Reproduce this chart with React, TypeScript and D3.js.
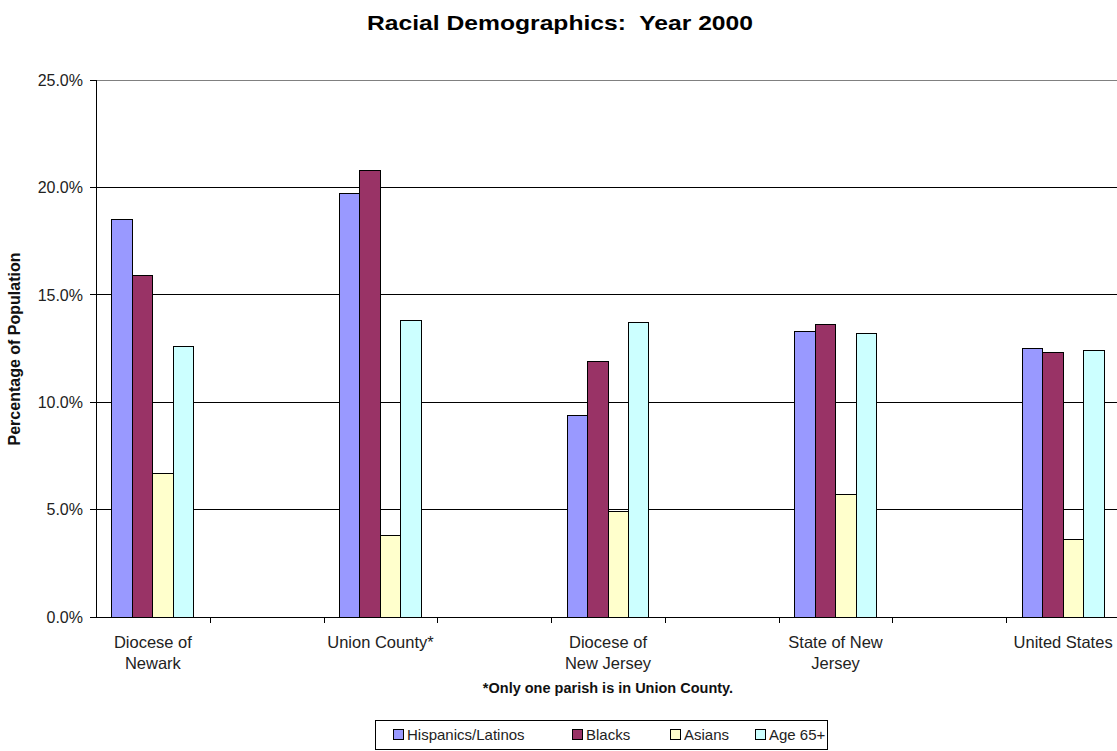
import * as d3 from "d3";

const CATEGORIES = [
  ["Diocese of", "Newark"],
  [""],
  ["Union County*"],
  [""],
  ["Diocese of", "New Jersey"],
  [""],
  ["State of New", "Jersey"],
  [""],
  ["United States"],
];
const SERIES = ["Hispanics/Latinos", "Blacks", "Asians", "Age 65+"];
const COLORS = ["#9999ff", "#993366", "#ffffcc", "#ccffff"];
// one row per category, blank spacer categories are null
const VALUES: (number[] | null)[] = [
  [18.5, 15.9, 6.7, 12.6],
  null,
  [19.7, 20.8, 3.8, 13.8],
  null,
  [9.4, 11.9, 4.9, 13.7],
  null,
  [13.3, 13.6, 5.7, 13.2],
  null,
  [12.5, 12.3, 3.6, 12.4],
];
const Y_TICKS = [0, 5, 10, 15, 20, 25];

const W = 1117;
const H = 751;
const L = 96;
const R = 1120;
const T = 80;
const B = 617;
const FONT = "Arial, 'Liberation Sans', sans-serif";

export default function App() {
  const x = d3.scaleBand<number>().domain(d3.range(CATEGORIES.length)).range([L, R]);
  const xs = d3.scaleBand<number>().domain(d3.range(SERIES.length)).range([0, x.bandwidth()]).paddingOuter(0.78);
  const y = d3.scaleLinear().domain([0, 25]).range([B, T]);

  // legend swatch positions, as laid out in the original
  const legendX = [393, 572, 670, 755];

  return (
    <svg width={W} height={H} style={{ position: "absolute", left: 0, top: 0, background: "#fff" }} fontFamily={FONT}>
      <rect width={W} height={H} fill="#fff" />
      <text x={560} y={30} textAnchor="middle" fontSize={21} fontWeight="bold" textLength={386} lengthAdjust="spacingAndGlyphs" style={{ whiteSpace: "pre" }}>
        {"Racial Demographics:  Year 2000"}
      </text>

      {/* gridlines */}
      {Y_TICKS.filter((t) => t > 0).map((t) => (
        <line key={t} x1={L} x2={R} y1={y(t)} y2={y(t)} stroke={t === 25 ? "#808080" : "#000"} shapeRendering="crispEdges" />
      ))}

      {/* bars */}
      {VALUES.map((row, i) =>
        row
          ? row.map((v, j) => (
              <rect
                key={`${i}-${j}`}
                x={(x(i) as number) + (xs(j) as number)}
                y={y(v)}
                width={xs.bandwidth()}
                height={B - y(v)}
                fill={COLORS[j]}
                stroke="#000"
                strokeWidth={1}
                shapeRendering="crispEdges"
              />
            ))
          : null
      )}

      {/* axes */}
      <line x1={L} x2={L} y1={T} y2={B} stroke="#000" shapeRendering="crispEdges" />
      <line x1={L} x2={R} y1={B} y2={B} stroke="#000" shapeRendering="crispEdges" />
      {Y_TICKS.map((t) => (
        <g key={t}>
          <line x1={L - 6} x2={L} y1={y(t)} y2={y(t)} stroke="#000" shapeRendering="crispEdges" />
          <text x={L - 13} y={y(t)} dy="0.36em" textAnchor="end" fontSize={16} fill="#222">
            {t.toFixed(1)}%
          </text>
        </g>
      ))}
      {d3.range(1, CATEGORIES.length + 1).map((i) => {
        const xx = Math.round((x(i - 1) as number) + x.bandwidth());
        return <line key={i} x1={xx} x2={xx} y1={B} y2={B + 6} stroke="#000" shapeRendering="crispEdges" />;
      })}
      {CATEGORIES.map((lines, i) => (
        <text key={i} x={(x(i) as number) + x.bandwidth() / 2} y={648} textAnchor="middle" fontSize={16.5} fill="#222">
          {lines.map((s, k) => (
            <tspan key={k} x={(x(i) as number) + x.bandwidth() / 2} dy={k === 0 ? 0 : 21}>
              {s}
            </tspan>
          ))}
        </text>
      ))}

      <text transform={`translate(20,349) rotate(-90)`} textAnchor="middle" fontSize={16} fontWeight="bold" fill="#111">
        Percentage of Population
      </text>

      <text x={608} y={693} textAnchor="middle" fontSize={14.5} fontWeight="bold" fill="#111">
        *Only one parish is in Union County.
      </text>

      {/* legend */}
      <rect x={375.5} y={720.5} width={452} height={29} fill="#fff" stroke="#000" />
      {SERIES.map((s, j) => (
        <g key={s}>
          <rect x={legendX[j] + 0.5} y={729.5} width={10} height={10} fill={COLORS[j]} stroke="#000" />
          <text x={legendX[j] + 14} y={740} fontSize={15} fill="#222">
            {s}
          </text>
        </g>
      ))}
    </svg>
  );
}
